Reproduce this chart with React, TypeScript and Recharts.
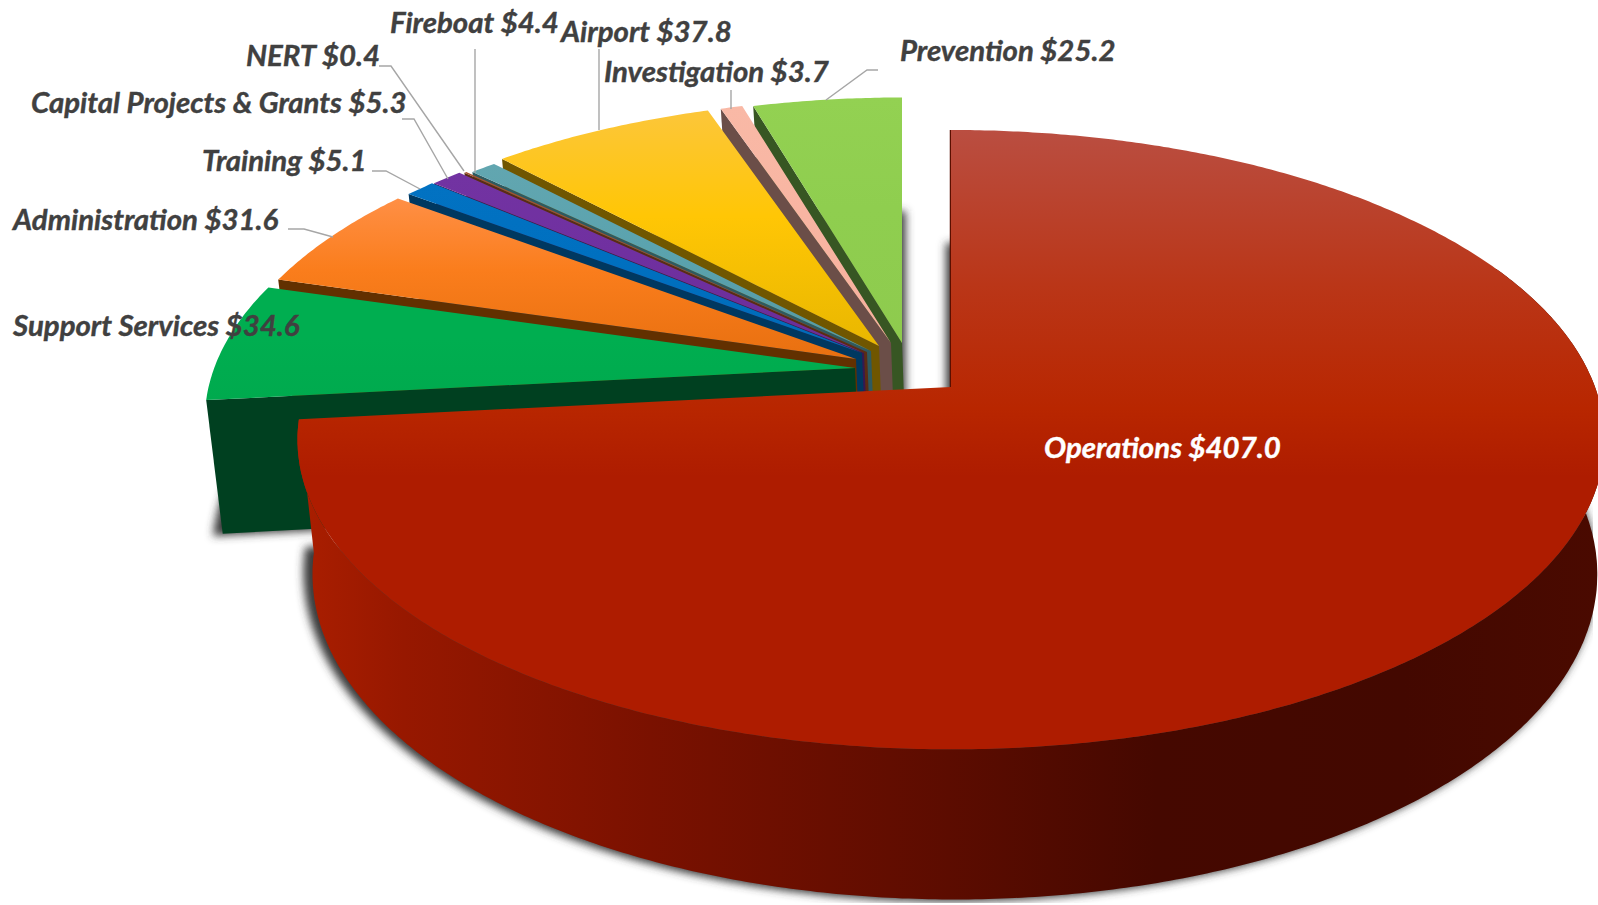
import { PieChart, Pie } from 'recharts'

// back-to-front order so the painter's order is right, angles run counterclockwise from 12 o'clock
const sliceNames = ['Prevention', 'Investigation', 'Airport', 'Fireboat', 'NERT', 'Capital Projects & Grants', 'Training', 'Administration', 'Support Services', 'Operations']
const sliceValues = [25.2, 3.7, 37.8, 4.4, 0.4, 5.3, 5.1, 31.6, 34.6, 407.0]
const sliceLabels = ['$25.2', '$3.7', '$37.8', '$4.4', '$0.4', '$5.3', '$5.1', '$31.6', '$34.6', '$407.0']

const data = sliceNames.map((name, i) => ({ name, value: sliceValues[i], money: sliceLabels[i] }))

// colours per slice: light top, base, near the tip, cut face
const topLight = ['#93D152', '#F9B9A6', '#FCC63A', '#62A6B0', '#A5532C', '#7233A2', '#0272C2', '#FF8F45', '#00AE50', '#BA4E41']
const topBase = ['#8FCE4F', '#F8B5A2', '#FFC605', '#5BA3AE', '#A0522D', '#7030A0', '#0070C0', '#FA7D1C', '#00AE50', '#AE1C00']
const topTip = ['#8ECB4E', '#F6B09D', '#E9B700', '#559AA5', '#98502B', '#6A2D98', '#006BB8', '#E87010', '#00AA4E', '#AE1C00']
const wallColors = ['#375623', '#6B4E48', '#705600', '#2E5A60', '#5A2C14', '#381850', '#003860', '#623000', '#004020', '#430800']

// how far each slice is pulled out from the pie centre (px), and how much it shrinks going back
const explodeX = [-49, -60, -72, -80, -84, -87, -89, -95, -96, 0]
const explodeY = [-44, -44, -41, -36, -35, -34, -34, -28, -19, 0]
const explodeScale = [0.955, 0.955, 0.96, 0.96, 0.965, 0.97, 0.97, 0.98, 0.995, 1]

const labelX = [900, 604, 561, 390, 246, 31, 202, 13, 13, 1044]
const labelY = [61, 82, 42, 33, 66, 113, 171, 230, 336, 458]
const leaderLines = [
  '878,70 867,70 826,100',
  '731,90 731,109',
  '599,49 599,130',
  '475,49 475,173',
  '379,66 391,66 464,171',
  '402,119 414,119 448,179',
  '372,171 386,171 420,189',
  '288,229 304,229 333,237',
  '',
  '',
]

const TILT = 0.467 // vertical squash of the disc
const PERSP = 0.17
const DEPTH = 132
const BOTTOM_X = 0.983
const BOTTOM_Y = 1.05
const VANISH_X = 1180

function project(deg: number, r: number, R: number, ox: number, oy: number, bottom: boolean) {
  const a = (deg * Math.PI) / 180
  const u = r * Math.cos(a)
  const v = r * Math.sin(a)
  const w = 1 + PERSP * v
  const x = ox + (R * u) / w
  const y = (R * TILT * v) / w
  if (!bottom) return [x, oy - y]
  return [VANISH_X + (x - VANISH_X) * BOTTOM_X, oy + DEPTH - y * BOTTOM_Y]
}

function arc(from: number, to: number, R: number, ox: number, oy: number, bottom: boolean) {
  const pts = []
  const n = Math.max(2, Math.ceil(Math.abs(to - from) * 2))
  for (let i = 0; i <= n; i++) pts.push(project(from + ((to - from) * i) / n, 1, R, ox, oy, bottom))
  return pts
}

const toPath = (pts: number[][]) => 'M' + pts.map((p) => p[0].toFixed(1) + ',' + p[1].toFixed(1)).join('L') + 'Z'

function Slice3D(props: any) {
  const { cx, cy, outerRadius, startAngle, endAngle, index } = props
  const i = sliceNames.indexOf(props.name ?? props.payload?.name)
  const k = i >= 0 ? i : index
  const R = outerRadius * explodeScale[k]
  const ox = cx + explodeX[k]
  const oy = cy + explodeY[k]
  const isMain = sliceNames[k] === 'Operations'
  const apexTop = project(0, 0, R, ox, oy, false)
  const apexBot = project(0, 0, R, ox, oy, true)
  const topArc = arc(startAngle, endAngle, R, ox, oy, false)
  const botArc = arc(startAngle, endAngle, R, ox, oy, true)
  const edgeTop = project(endAngle, 1, R, ox, oy, false)
  const edgeBot = project(endAngle, 1, R, ox, oy, true)

  return (
    <g>
      <defs>
        <filter id={'soft' + k} filterUnits="userSpaceOnUse" x={0} y={0} width={1598} height={905}>
          <feGaussianBlur stdDeviation={4.5} />
        </filter>
        <linearGradient id={'top' + k} x1="0" y1="0" x2="0" y2="1">
          {isMain ? (
            <>
              <stop offset="0" stopColor="#BA4E41" />
              <stop offset="0.25" stopColor="#BA3618" />
              <stop offset="0.45" stopColor="#B82600" />
              <stop offset="0.56" stopColor={topBase[k]} />
              <stop offset="1" stopColor={topTip[k]} />
            </>
          ) : (
            <>
              <stop offset="0" stopColor={topLight[k]} />
              <stop offset="0.45" stopColor={topBase[k]} />
              <stop offset="1" stopColor={topTip[k]} />
            </>
          )}
        </linearGradient>
        {isMain && (
          <linearGradient id="mainWall" gradientUnits="userSpaceOnUse" x1={300} y1={0} x2={1598} y2={0}>
            <stop offset="0" stopColor="#AA1E00" />
            <stop offset="0.08" stopColor="#971800" />
            <stop offset="0.27" stopColor="#7A1100" />
            <stop offset="0.5" stopColor="#5C0C00" />
            <stop offset="0.66" stopColor="#450800" />
            <stop offset="0.85" stopColor="#430800" />
            <stop offset="1" stopColor="#4A0A00" />
          </linearGradient>
        )}
      </defs>
      {/* blurred copy of the underside */}
      <path
        d={toPath([apexBot, ...botArc])}
        fill="#3A3A3A"
        stroke="#3A3A3A"
        strokeWidth={8}
        filter={`url(#soft${k})`}
        transform="translate(-5,-2)"
      />
      {isMain ? (
        <>
          <path
            d={toPath([...arc(startAngle, 385, R, ox, oy, false), ...arc(startAngle, 385, R, ox, oy, true).reverse()])}
            fill="url(#mainWall)"
          />
          <line x1={apexTop[0]} y1={apexTop[1]} x2={edgeTop[0]} y2={edgeTop[1]} stroke="#5A0F00" strokeWidth={2.5} />
        </>
      ) : (
        <path d={toPath([apexTop, edgeTop, edgeBot, apexBot])} fill={wallColors[k]} />
      )}
      <path d={toPath([apexTop, ...topArc])} fill={`url(#top${k})`} />
    </g>
  )
}

function SliceLabel(props: any) {
  const k = sliceNames.indexOf(props.name ?? props.payload?.name)
  if (k < 0) return null
  const isMain = sliceNames[k] === 'Operations'
  const color = isMain ? '#FFFFFF' : '#404040'
  return (
    <g>
      {leaderLines[k] && <polyline points={leaderLines[k]} fill="none" stroke="#A6A6A6" strokeWidth={1.4} />}
      <text
        x={labelX[k]}
        y={labelY[k]}
        fontFamily="Lato, 'Open Sans', sans-serif"
        fontStyle="italic"
        fontWeight={700}
        fontSize={29.4}
        fill={color}
        stroke={color}
        strokeWidth={0.4}
        textAnchor="start"
      >
        {sliceNames[k]} {sliceLabels[k]}
      </text>
    </g>
  )
}

export default function App() {
  return (
    <div style={{ position: 'absolute', left: 0, top: 0, width: 1598, height: 905, background: '#fff', overflow: 'hidden' }}>
      <PieChart width={1598} height={905} margin={{ top: 0, right: 0, bottom: 0, left: 0 }}>
        <Pie
          data={data}
          dataKey="value"
          nameKey="name"
          cx={951}
          cy={387}
          innerRadius={0}
          outerRadius={644}
          startAngle={90}
          endAngle={450}
          shape={Slice3D}
          label={SliceLabel}
          labelLine={false}
          stroke="none"
          isAnimationActive={false}
        />
      </PieChart>
    </div>
  )
}
